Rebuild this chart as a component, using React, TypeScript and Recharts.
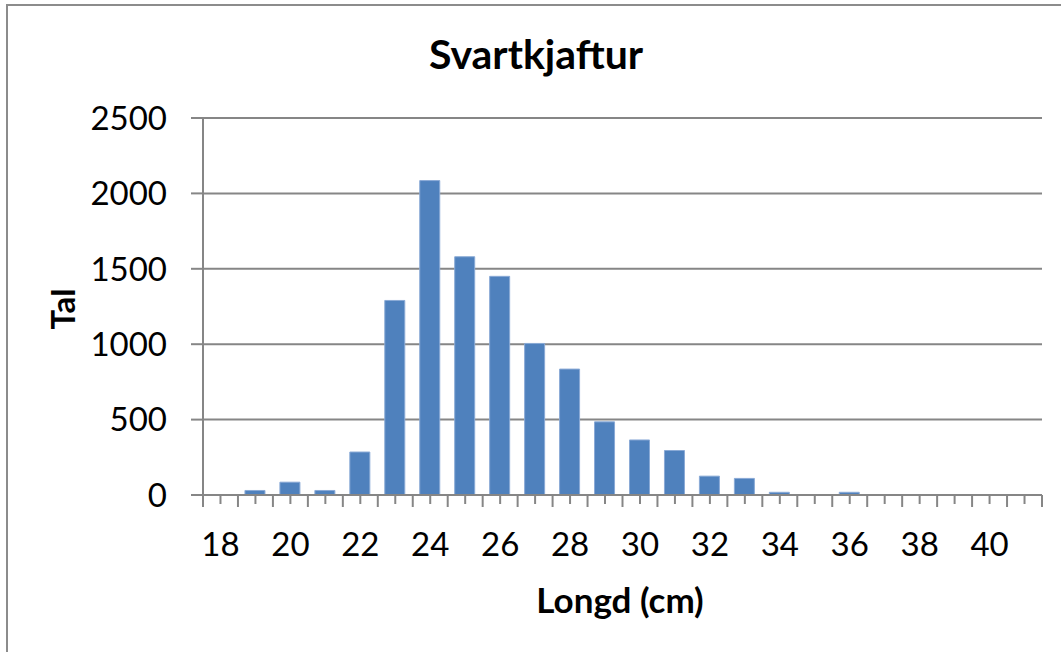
import { BarChart, Bar, XAxis, YAxis, CartesianGrid } from 'recharts';

const lengths = [18, 19, 20, 21, 22, 23, 24, 25, 26, 27, 28, 29, 30, 31, 32, 33, 34, 35, 36, 37, 38, 39, 40, 41];
const counts = [0, 30, 85, 30, 285, 1290, 2085, 1580, 1450, 1005, 835, 485, 365, 295, 125, 110, 18, 3, 18, 3, 0, 3, 0, 0];
const yTicks = [0, 500, 1000, 1500, 2000, 2500];

const W = 1061;
const H = 652;
const MARGIN = { top: 118, right: 19, bottom: 87, left: 80 };
const Y_AXIS_W = 123;
const X_AXIS_H = 70;
const GRID = '#868686';
const FONT = 'Lato, "Open Sans", sans-serif';

const plotW = W - MARGIN.left - MARGIN.right - Y_AXIS_W;
const band = plotW / lengths.length;

const data = lengths.map((len, i) => ({ len, count: counts[i] }));

// category axis: short tick at centre, long tick at each boundary, labels on even lengths
function LengthTick(props: any) {
  const { x, y, payload, index } = props;
  const left = x - band / 2;
  return (
    <g>
      <line x1={x} x2={x} y1={y} y2={y + 9} stroke={GRID} strokeWidth={2} />
      <line x1={left} x2={left} y1={y} y2={y + 12} stroke={GRID} strokeWidth={2} />
      {index === lengths.length - 1 && (
        <line x1={x + band / 2} x2={x + band / 2} y1={y} y2={y + 12} stroke={GRID} strokeWidth={2} />
      )}
      {payload.value % 2 === 0 && (
        <text x={x} y={y + 61} textAnchor="middle" fontSize={33} fontFamily={FONT} fill="#000">
          {payload.value}
        </text>
      )}
    </g>
  );
}

const titleStyle = {
  position: 'absolute' as const,
  transform: 'translate(-50%, -50%)',
  fontFamily: FONT,
  fontWeight: 700,
  color: '#000',
  whiteSpace: 'nowrap' as const,
  lineHeight: 1,
};

export default function App() {
  return (
    <div style={{ position: 'absolute', left: 0, top: 0, width: W, height: H, overflow: 'hidden', background: '#fff' }}>
      <div
        style={{
          position: 'absolute',
          left: 6,
          top: 4,
          width: W + 40,
          height: H + 40,
          border: '2px solid #8c8c8c',
        }}
      />
      <div style={{ ...titleStyle, left: 536, top: 53, fontSize: 41 }}>Svartkjaftur</div>
      <div style={{ ...titleStyle, left: 62, top: 309, fontSize: 33, transform: 'translate(-50%, -50%) rotate(-90deg)' }}>
        Tal
      </div>
      <div style={{ ...titleStyle, left: 620, top: 599, fontSize: 35 }}>Longd (cm)</div>
      <div style={{ position: 'absolute', left: 0, top: 0 }}>
        <BarChart width={W} height={H} data={data} margin={MARGIN} barSize={20}>
          <CartesianGrid vertical={false} stroke={GRID} strokeWidth={2} />
          <XAxis
            dataKey="len"
            type="category"
            interval={0}
            height={X_AXIS_H}
            tickSize={0}
            tickMargin={0}
            tickLine={false}
            axisLine={{ stroke: GRID, strokeWidth: 2 }}
            tick={<LengthTick />}
          />
          <YAxis
            width={Y_AXIS_W}
            domain={[0, 2500]}
            ticks={yTicks}
            interval={0}
            tickSize={12}
            tickMargin={24}
            tickLine={{ stroke: GRID, strokeWidth: 2 }}
            axisLine={{ stroke: GRID, strokeWidth: 2 }}
            tick={{ fontSize: 33, fontFamily: FONT, fill: '#000' }}
          />
          <Bar dataKey="count" fill="#4F81BD" stroke="#8AAAD6" strokeWidth={1} isAnimationActive={false} />
        </BarChart>
      </div>
    </div>
  );
}
